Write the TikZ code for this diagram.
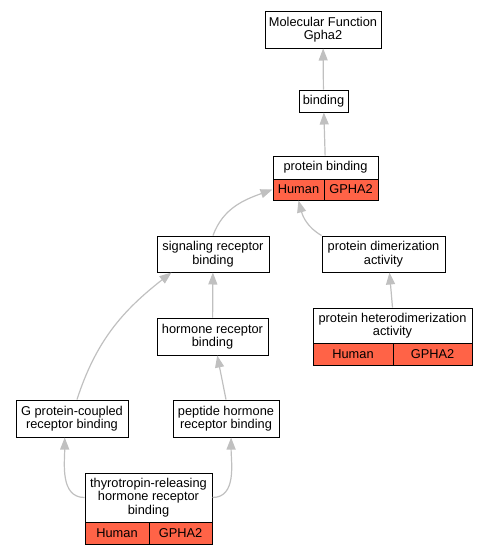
\documentclass[tikz,border=0pt]{standalone}
\usepackage{fontspec}
\setmainfont{Liberation Sans}
\usetikzlibrary{arrows.meta}
\definecolor{tomato}{RGB}{255,99,71}
\definecolor{edgegray}{RGB}{192,192,192}
\tikzset{
    term/.style = {draw, fill=white, line width=1pt, inner sep=0pt, align=center,
                   font=\fontsize{12.8}{13.5}\selectfont},
    cell/.style = {term, fill=tomato},
    isa/.style = {draw=edgegray, line width=1.2pt, -{Triangle[length=12pt,width=9pt]}},
}
\begin{document}
\begin{tikzpicture}[x=1pt,y=-1pt]
    \useasboundingbox (0,0) rectangle (487,555);
    \node (mf) at (323,29.5) [term, minimum width=116pt, minimum height=37pt] {Molecular Function\\Gpha2};
    \node (bind) at (323.5,101) [term, minimum width=49pt, minimum height=22pt] {binding};
    \node (pbt) at (325.5,167.5) [term, minimum width=105pt, minimum height=23pt] {protein binding};
    \node (pbh) at (298.5,189.5) [cell, minimum width=51pt, minimum height=21pt] {Human};
    \node (pbg) at (351,189.5) [cell, minimum width=54pt, minimum height=21pt] {GPHA2};
    \node (sig) at (213,254) [term, minimum width=112pt, minimum height=36pt] {signaling receptor\\binding};
    \node (dim) at (383.5,254) [term, minimum width=123pt, minimum height=36pt] {protein dimerization\\activity};
    \node (horm) at (212.5,336.5) [term, minimum width=111pt, minimum height=37pt] {hormone receptor\\binding};
    \node (hett) at (392.5,325.5) [term, minimum width=159pt, minimum height=35pt] {protein heterodimerization\\activity};
    \node (heth) at (353,354) [cell, minimum width=80pt, minimum height=22pt] {Human};
    \node (hetg) at (432.5,354) [cell, minimum width=79pt, minimum height=22pt] {GPHA2};
    \node (gpc) at (72,418.5) [term, minimum width=112pt, minimum height=37pt] {G protein-coupled\\receptor binding};
    \node (pep) at (226,418.5) [term, minimum width=106pt, minimum height=37pt] {peptide hormone\\receptor binding};
    \node (thyt) at (148.5,497.5) [term, minimum width=127pt, minimum height=49pt] {thyrotropin-releasing\\hormone receptor\\binding};
    \node (thyh) at (117,533) [cell, minimum width=64pt, minimum height=22pt] {Human};
    \node (thyg) at (180.5,533) [cell, minimum width=63pt, minimum height=22pt] {GPHA2};
    \draw[isa] (bind) -- (mf);
    \draw[isa] (pbt) -- (bind);
    \draw[isa] (sig.north) to[out=70,in=200] (pbh.west);
    \draw[isa] (dim.north west) to[out=150,in=-75] (pbh.south);
    \draw[isa] (horm) -- (sig);
    \draw[isa] (hett.north) -- ([xshift=6pt]dim.south);
    \draw[isa] ([xshift=5pt]gpc.north) to[out=72,in=218] (sig.204);
    \draw[isa] (pep.north) -- (horm.-76);
    \draw[isa] (thyt.west) to[out=180,in=-90] (gpc.-111);
    \draw[isa] (thyt.east) to[out=0,in=-90] (pep.-75);
\end{tikzpicture}
\end{document}
